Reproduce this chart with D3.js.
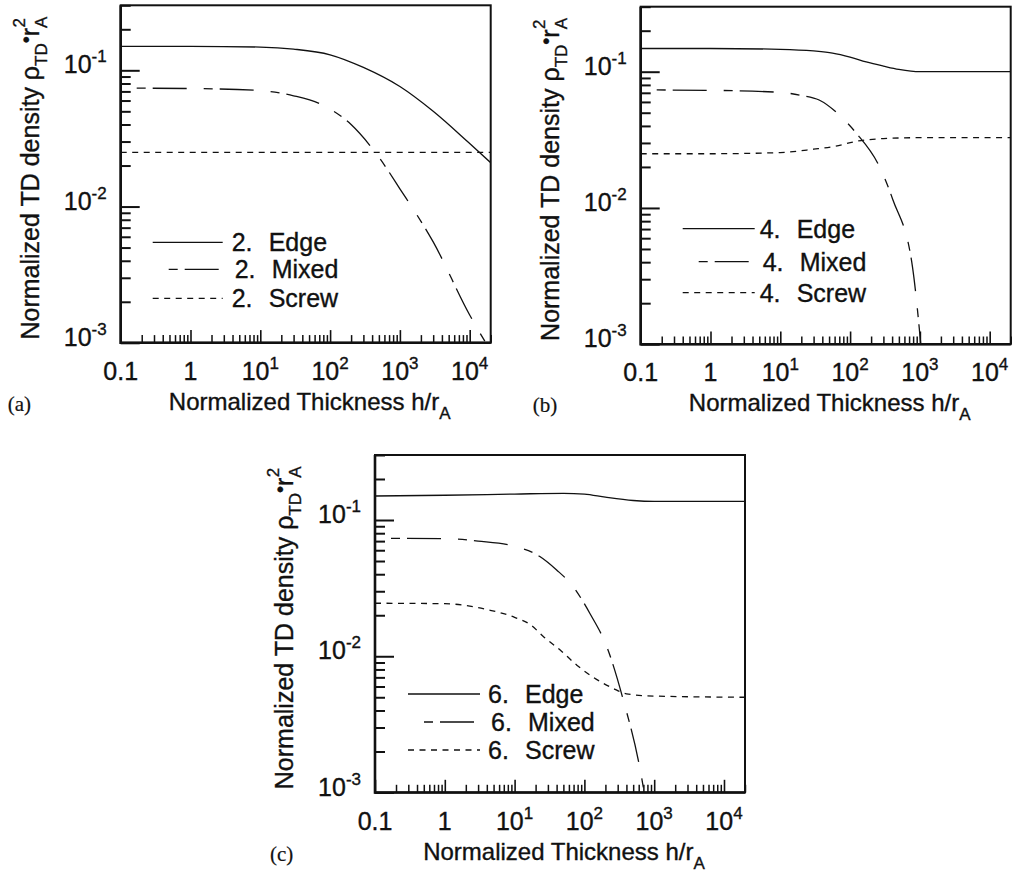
<!DOCTYPE html>
<html>
<head>
<meta charset="utf-8">
<script src="https://cdn.jsdelivr.net/npm/d3@7"></script>
<style>
  body { margin: 0; background: #fff; }
  svg text { font-family: "Liberation Sans", Arial, Helvetica, sans-serif; fill: #111; stroke: #111; stroke-width: 0.35px; }
  svg text.panel-tag { font-family: "Liberation Serif", "Times New Roman", serif; stroke-width: 0.2px; }
</style>
</head>
<body>
<div id="chart"></div>
<script>
// ---- data ----
var xLabelVals = [0.1, 1, 10, 100, 1000, 10000];
var xLabelBase = ["0.1", "1", "10", "10", "10", "10"];
var xLabelExp  = ["", "", "1", "2", "3", "4"];
var yLabelVals = [0.001, 0.01, 0.1];
var yLabelExp  = ["-3", "-2", "-1"];
var seriesNames = ["Edge", "Mixed", "Screw"];

// (a) order 2
var aEdgeH    = [0.1, 1, 10, 30, 100, 300, 1000, 3000, 10000, 20000];
var aEdgeRho  = [0.150, 0.150, 0.148, 0.143, 0.130, 0.105, 0.076, 0.050, 0.029, 0.021];
var aMixedH   = [0.1, 1, 10, 30, 70, 200, 500, 1000, 3000, 10000, 17000];
var aMixedRho = [0.074, 0.0735, 0.071, 0.065, 0.057, 0.040, 0.023, 0.0135, 0.0055, 0.0016, 0.001];
var aScrewH   = [0.1, 20000];
var aScrewRho = [0.025, 0.025];

// (b) order 4
var bEdgeH    = [0.1, 1, 10, 30, 56, 100, 170, 300, 500, 1000, 20000];
var bEdgeRho  = [0.148, 0.148, 0.146, 0.142, 0.137, 0.128, 0.118, 0.110, 0.104, 0.100, 0.100];
var bMixedH   = [0.1, 1, 10, 20, 36, 78, 122, 262, 410, 783, 1030];
var bMixedRho = [0.0735, 0.073, 0.0705, 0.067, 0.062, 0.0456, 0.0355, 0.0202, 0.0115, 0.0037, 0.001];
var bScrewH   = [0.1, 1, 10, 30, 60, 130, 300, 1000, 20000];
var bScrewRho = [0.025, 0.025, 0.0255, 0.027, 0.0283, 0.031, 0.0323, 0.0328, 0.0328];

// (c) order 6
var cEdgeH    = [0.1, 1, 10, 50, 100, 200, 500, 1000, 20000];
var cEdgeRho  = [0.150, 0.152, 0.155, 0.157, 0.155, 0.147, 0.139, 0.137, 0.137];
var cMixedH   = [0.1, 1, 3, 10, 23, 40, 69, 120, 210, 360, 630, 720];
var cMixedRho = [0.0733, 0.073, 0.070, 0.064, 0.054, 0.043, 0.0324, 0.0206, 0.0117, 0.0048, 0.00147, 0.001];
var cScrewH   = [0.1, 1, 4.4, 10, 17, 26, 45, 78, 260, 400, 1000, 20000];
var cScrewRho = [0.0245, 0.0243, 0.0218, 0.0193, 0.0170, 0.0139, 0.0111, 0.0086, 0.0058, 0.0053, 0.0051, 0.0050];

(function () {

    var W = 370, H = 337.5;
    var DASH = {
        Edge:  { arr: null, off: 0 },
        Mixed: { arr: "34 17 9 7", off: 35 },
        Screw: { arr: "6 5.5", off: 0 }
    };

    var svg = d3.select("#chart").append("svg")
        .attr("width", 1013).attr("height", 873);

    var panels = [
        { key: "a", ox: 120.7, oy: 5.3, tag: "(a)", tagX: -113, num: "2.",
          h: [aEdgeH, aMixedH, aScrewH], rho: [aEdgeRho, aMixedRho, aScrewRho],
          leg: { x1: 32, x2: 102, tx: 111, ys: [237, 264, 293] } },
        { key: "b", ox: 640.7, oy: 6.7, tag: "(b)", tagX: -108, num: "4.",
          h: [bEdgeH, bMixedH, bScrewH], rho: [bEdgeRho, bMixedRho, bScrewRho],
          leg: { x1: 42, x2: 114, tx: 119, ys: [222, 255, 286] } },
        { key: "c", ox: 375, oy: 455, tag: "(c)", tagX: -105, num: "6.",
          h: [cEdgeH, cMixedH, cScrewH], rho: [cEdgeRho, cMixedRho, cScrewRho],
          leg: { x1: 33, x2: 105, tx: 113, ys: [239, 267, 295] } }
    ];

    function isPow10(v) {
        var l = Math.log10(v);
        return Math.abs(l - Math.round(l)) < 1e-9;
    }

    function drawPanel(p) {
        var g = svg.append("g")
            .attr("transform", "translate(" + p.ox + "," + p.oy + ")");

        var x = d3.scaleLog().domain([0.1, 2e4]).range([0, W]);
        var y = d3.scaleLog().domain([1e-3, 0.3]).range([H, 0]);

        g.append("defs").append("clipPath")
            .attr("id", "clip-" + p.key)
            .append("rect").attr("width", W).attr("height", H);

        // inward ticks, minor + major
        var xt = x.ticks();
        var yt = y.ticks();
        var xMaj = xt.filter(isPow10), xMin = xt.filter(function (v) { return !isPow10(v); });
        var yMaj = yt.filter(isPow10), yMin = yt.filter(function (v) { return !isPow10(v); });

        function tickAxis(axis, vals, len, tr, sw) {
            var ax = g.append("g").attr("transform", tr)
                .call(axis.tickValues(vals).tickSize(-len).tickSizeOuter(0).tickFormat(""));
            ax.select(".domain").remove();
            ax.selectAll("line").attr("stroke", "#111").attr("stroke-width", sw);
        }
        tickAxis(d3.axisBottom(x), xMin, 7.7, "translate(0," + H + ")", 1.5);
        tickAxis(d3.axisBottom(x), xMaj, 12.7, "translate(0," + H + ")", 1.6);
        tickAxis(d3.axisLeft(y), yMin, 10, "translate(0,0)", 2);
        tickAxis(d3.axisLeft(y), yMaj, 19, "translate(0,0)", 2);

        // frame
        g.append("rect")
            .attr("width", W).attr("height", H)
            .attr("fill", "none").attr("stroke", "#111").attr("stroke-width", 2);
        g.append("path")
            .attr("d", "M0,0V" + H + "H" + W)
            .attr("fill", "none").attr("stroke", "#111").attr("stroke-width", 2.6);

        // curves
        var line = d3.line()
            .x(function (d) { return x(d[0]); })
            .y(function (d) { return y(d[1]); })
            .curve(d3.curveMonotoneX);

        seriesNames.forEach(function (name, i) {
            var pts = d3.zip(p.h[i], p.rho[i]);
            var path = g.append("path")
                .datum(pts)
                .attr("clip-path", "url(#clip-" + p.key + ")")
                .attr("fill", "none")
                .attr("stroke", "#111")
                .attr("stroke-width", 1.3)
                .attr("d", line);
            if (DASH[name].arr) {
                path.attr("stroke-dasharray", DASH[name].arr)
                    .attr("stroke-dashoffset", DASH[name].off);
            }
        });

        // x tick labels
        xLabelVals.forEach(function (v, i) {
            var t = g.append("text")
                .attr("x", x(v)).attr("y", H + 37)
                .attr("text-anchor", "middle")
                .attr("font-size", 25)
                .text(xLabelBase[i]);
            if (xLabelExp[i]) {
                t.append("tspan").attr("dy", -11).attr("font-size", 17).text(xLabelExp[i]);
            }
        });

        // y tick labels
        yLabelVals.forEach(function (v, i) {
            var t = g.append("text")
                .attr("x", -14).attr("y", y(v) + 3)
                .attr("text-anchor", "end")
                .attr("font-size", 25)
                .text("10");
            t.append("tspan").attr("dy", -11).attr("font-size", 17).text(yLabelExp[i]);
        });

        // axis titles
        var xt2 = g.append("text")
            .attr("x", W / 2 + 4).attr("y", H + 67)
            .attr("text-anchor", "middle")
            .attr("font-size", 24)
            .text("Normalized Thickness h/r");
        xt2.append("tspan").attr("dy", 9).attr("font-size", 17).text("A");

        var yt2 = g.append("text")
            .attr("transform", "translate(" + (-82) + "," + (H / 2 + 4) + ") rotate(-90)")
            .attr("text-anchor", "middle")
            .attr("font-size", 25)
            .text("Normalized TD density \u03c1");
        yt2.append("tspan").attr("dy", 8).attr("font-size", 17).text("TD");
        yt2.append("tspan").attr("dy", -14).attr("font-size", 20).text("\u2022");
        yt2.append("tspan").attr("dy", 6).attr("font-size", 25).text("r");
        yt2.append("tspan").attr("dy", 8).attr("font-size", 17).text("A");
        yt2.append("tspan").attr("dy", -22).attr("dx", -11).attr("font-size", 17).text("2");

        // panel tag
        g.append("text")
            .attr("class", "panel-tag")
            .attr("x", p.tagX).attr("y", H + 68)
            .attr("font-size", 21)
            .text(p.tag);

        // legend
        var lg = g.append("g").attr("class", "legend");
        seriesNames.forEach(function (name, i) {
            var ly = p.leg.ys[i];
            var shift = name === "Mixed" ? 3 : 0;
            var l = lg.append("line")
                .attr("x1", p.leg.x1).attr("x2", p.leg.x2)
                .attr("y1", ly).attr("y2", ly)
                .attr("stroke", "#111").attr("stroke-width", 1.3);
            if (DASH[name].arr) {
                l.attr("stroke-dasharray", DASH[name].arr)
                 .attr("stroke-dashoffset", DASH[name].off);
            }
            lg.append("text")
                .attr("x", p.leg.tx + shift).attr("y", ly + 9)
                .attr("font-size", 25)
                .text(p.num);
            lg.append("text")
                .attr("x", p.leg.tx + shift + 37).attr("y", ly + 9)
                .attr("font-size", 25)
                .text(name);
        });
    }

    panels.forEach(drawPanel);

}());
</script>
</body>
</html>
